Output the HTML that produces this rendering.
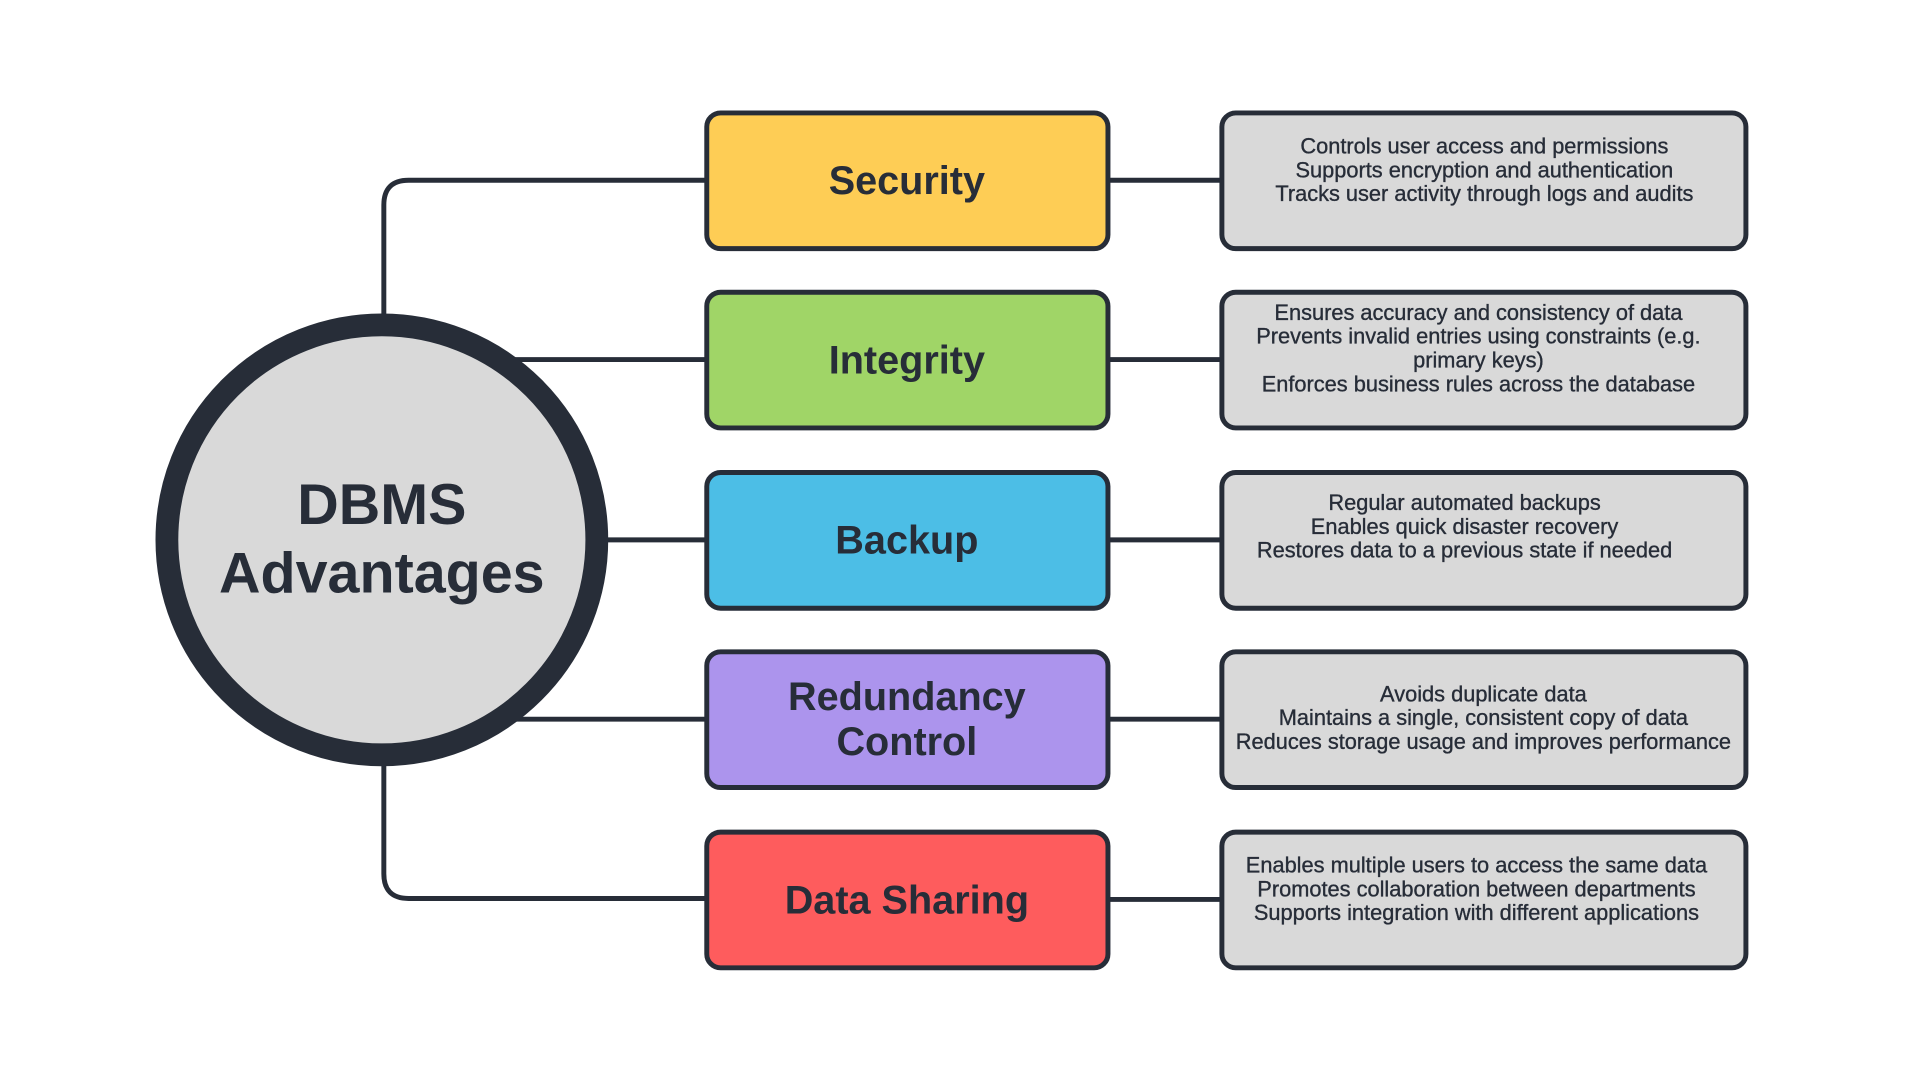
<!DOCTYPE html>
<html><head><meta charset="utf-8"><style>
html,body{margin:0;padding:0;background:#fff;}
svg text{font-family:"Liberation Sans",sans-serif;fill:#272d38;}
.t{font-weight:bold;font-size:40px;}
.d{font-size:22px;stroke:#272d38;stroke-width:0.35px;}
</style></head><body>
<svg width="1920" height="1080" viewBox="0 0 1920 1080" xmlns="http://www.w3.org/2000/svg">
<g transform="translate(-2.5,-1) scale(0.9906)">
<g stroke="#272d38" stroke-width="5" fill="none">
<path d="M390 320 V208 Q390 183 415 183 H716"/>
<path d="M390 770 V883 Q390 908 415 908 H716"/>
<line x1="520" y1="364" x2="716" y2="364"/>
<line x1="600" y1="546" x2="716" y2="546"/>
<line x1="520" y1="727" x2="716" y2="727"/>
<line x1="1120" y1="183" x2="1236" y2="183"/>
<line x1="1120" y1="364" x2="1236" y2="364"/>
<line x1="1120" y1="546" x2="1236" y2="546"/>
<line x1="1120" y1="727" x2="1236" y2="727"/>
<line x1="1120" y1="909" x2="1236" y2="909"/>
</g>
<circle cx="388" cy="546" r="217" fill="#d9d9d9" stroke="#272d38" stroke-width="23"/>
<g stroke="#272d38" stroke-width="5">
<rect x="716" y="115" width="405" height="137" rx="14" fill="#fecd55"/>
<rect x="716" y="296" width="405" height="137" rx="14" fill="#a0d567"/>
<rect x="716" y="478" width="405" height="137" rx="14" fill="#4cbee6"/>
<rect x="716" y="659" width="405" height="137" rx="14" fill="#ac94ed"/>
<rect x="716" y="841" width="405" height="137" rx="14" fill="#fe5c5d"/>
<rect x="1236" y="115" width="529" height="137" rx="14" fill="#d9d9d9"/>
<rect x="1236" y="296" width="529" height="137" rx="14" fill="#d9d9d9"/>
<rect x="1236" y="478" width="529" height="137" rx="14" fill="#d9d9d9"/>
<rect x="1236" y="659" width="529" height="137" rx="14" fill="#d9d9d9"/>
<rect x="1236" y="841" width="529" height="137" rx="14" fill="#d9d9d9"/>
</g>
<g text-anchor="middle">
<text x="388" y="530" style="font-weight:bold;font-size:58px">DBMS</text>
<text x="388" y="599" style="font-weight:bold;font-size:58px">Advantages</text>
<text class="t" x="918" y="197">Security</text>
<text class="t" x="918" y="378">Integrity</text>
<text class="t" x="918" y="560">Backup</text>
<text class="t" x="918" y="718">Redundancy</text>
<text class="t" x="918" y="763">Control</text>
<text class="t" x="918" y="923">Data Sharing</text>
<g class="d">
<text x="1501" y="156">Controls user access and permissions</text>
<text x="1501" y="180">Supports encryption and authentication</text>
<text x="1501" y="204">Tracks user activity through logs and audits</text>
<text x="1495" y="324">Ensures accuracy and consistency of data</text>
<text x="1495" y="348">Prevents invalid entries using constraints (e.g.</text>
<text x="1495" y="372">primary keys)</text>
<text x="1495" y="396">Enforces business rules across the database</text>
<text x="1481" y="516">Regular automated backups</text>
<text x="1481" y="540">Enables quick disaster recovery</text>
<text x="1481" y="564">Restores data to a previous state if needed</text>
<text x="1500" y="709">Avoids duplicate data</text>
<text x="1500" y="733">Maintains a single, consistent copy of data</text>
<text x="1500" y="757">Reduces storage usage and improves performance</text>
<text x="1493" y="882">Enables multiple users to access the same data</text>
<text x="1493" y="906">Promotes collaboration between departments</text>
<text x="1493" y="930">Supports integration with different applications</text>
</g>
</g>
</g>
</svg>
</body></html>
